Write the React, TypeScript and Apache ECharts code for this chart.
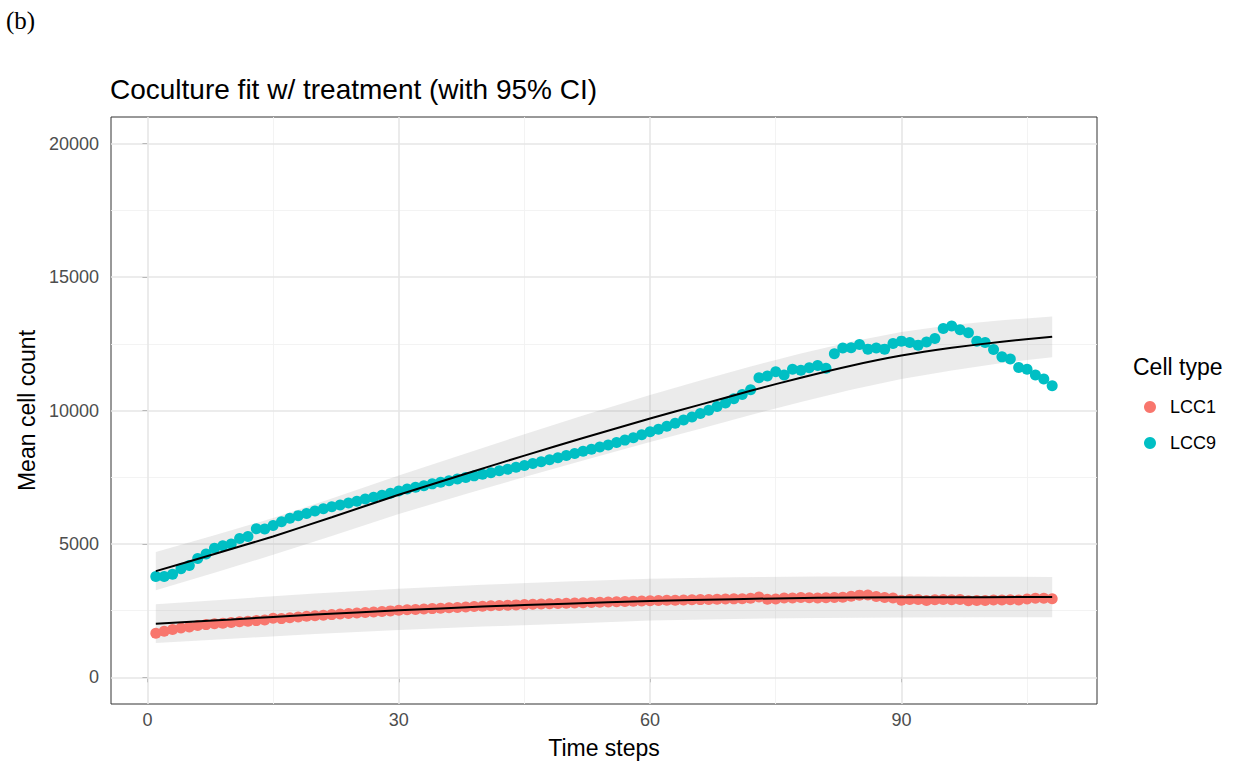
import React, { useEffect, useRef } from "react";
import * as echarts from "echarts";

// ---------- data ----------
const timeSteps: number[] = [
  1, 2, 3, 4, 5, 6, 7, 8, 9, 10, 11, 12, 13, 14, 15, 16, 17, 18, 19, 20,
  21, 22, 23, 24, 25, 26, 27, 28, 29, 30, 31, 32, 33, 34, 35, 36, 37, 38, 39, 40,
  41, 42, 43, 44, 45, 46, 47, 48, 49, 50, 51, 52, 53, 54, 55, 56, 57, 58, 59, 60,
  61, 62, 63, 64, 65, 66, 67, 68, 69, 70, 71, 72, 73, 74, 75, 76, 77, 78, 79, 80,
  81, 82, 83, 84, 85, 86, 87, 88, 89, 90, 91, 92, 93, 94, 95, 96, 97, 98, 99, 100,
  101, 102, 103, 104, 105, 106, 107, 108,
];

const lcc1: number[] = [
  1650, 1730, 1790, 1850, 1890, 1940, 1975, 2005, 2030, 2055,
  2080, 2100, 2125, 2150, 2210, 2200, 2230, 2260, 2285, 2310,
  2330, 2350, 2370, 2390, 2410, 2430, 2450, 2470, 2490, 2510,
  2530, 2545, 2560, 2575, 2590, 2605, 2620, 2635, 2650, 2665,
  2680, 2690, 2700, 2715, 2725, 2735, 2745, 2755, 2765, 2775,
  2785, 2795, 2805, 2815, 2825, 2835, 2845, 2855, 2862, 2870,
  2878, 2885, 2892, 2900, 2906, 2912, 2920, 2925, 2932, 2940,
  2945, 2960, 3010, 2930, 2935, 2970, 2975, 2990, 2980, 2975,
  2985, 2995, 3000, 3040, 3080, 3085, 3030, 2990, 2975, 2890,
  2920, 2915, 2880, 2905, 2920, 2910, 2915, 2870, 2880, 2880,
  2895, 2900, 2905, 2900, 2935, 2960, 2960, 2945,
];

const lcc9: number[] = [
  3780, 3780, 3860, 4070, 4190, 4450, 4620, 4840, 4930, 5000,
  5200, 5280, 5570, 5560, 5690, 5830, 5960, 6060, 6140, 6230,
  6320, 6390, 6460, 6530, 6600, 6680, 6750, 6820, 6900, 6980,
  7060, 7120, 7180, 7250, 7310, 7370, 7430, 7490, 7550, 7610,
  7670, 7740, 7800, 7870, 7940, 8010, 8080, 8150, 8230, 8310,
  8390, 8470, 8550, 8630, 8710, 8800, 8890, 8980, 9090, 9200,
  9300, 9410, 9520, 9640, 9760, 9890, 10010, 10150, 10280, 10440,
  10600, 10780, 11230, 11290, 11450, 11330, 11550, 11510, 11600, 11690,
  11580, 12130, 12340, 12350, 12470, 12300, 12340, 12300, 12510, 12600,
  12550, 12450, 12570, 12700, 13070, 13170, 13030, 12910, 12600, 12550,
  12290, 12010, 11930, 11610, 11550, 11330, 11180, 10930,
];

// fitted curves and 95% CI (sampled at knots)
const fit9T: number[] = [1, 8, 15, 22, 30, 38, 45, 52, 60, 66, 72, 78, 84, 90, 96, 102, 108];
const fit9: number[] = [3980, 4620, 5280, 6000, 6840, 7630, 8310, 8970, 9700, 10220, 10740, 11230, 11680, 12060, 12350, 12580, 12760];
const fit9Lower: number[] = [3260, 3920, 4590, 5300, 6120, 6870, 7510, 8130, 8820, 9320, 9830, 10320, 10780, 11180, 11500, 11780, 12000];
const fit9Upper: number[] = [4700, 5320, 5970, 6700, 7560, 8390, 9110, 9810, 10580, 11120, 11650, 12140, 12580, 12940, 13200, 13380, 13520];

const fit1T: number[] = [1, 10, 20, 30, 40, 50, 60, 70, 80, 90, 100, 108];
const fit1: number[] = [2010, 2170, 2350, 2510, 2650, 2760, 2860, 2930, 2980, 3000, 3005, 3010];
const fit1Lower: number[] = [1290, 1450, 1620, 1770, 1900, 2010, 2130, 2190, 2220, 2240, 2250, 2255];
const fit1Upper: number[] = [2740, 2930, 3140, 3320, 3470, 3590, 3690, 3750, 3780, 3780, 3770, 3760];

const xTicks: number[] = [0, 30, 60, 90];
const xMinor: number[] = [15, 45, 75, 105];
const yTicks: number[] = [0, 5000, 10000, 15000, 20000];
const yMinor: number[] = [2500, 7500, 12500, 17500];

const FONT = "Liberation Sans, Arial, Helvetica, sans-serif";

function bandSeries(id: string, ts: number[], lo: number[], hi: number[]) {
  return {
    id,
    type: "custom",
    silent: true,
    clip: false,
    z: 2,
    data: ts.map((t, i) => [t, lo[i], hi[i]]),
    encode: { x: 0, y: [1, 2] },
    renderItem: (params: any, api: any) => {
      if (params.dataIndex !== 0) return null;
      const top = ts.map((t, i) => api.coord([t, hi[i]]));
      const bot = ts.map((t, i) => api.coord([t, lo[i]])).reverse();
      return {
        type: "polygon",
        shape: { points: top.concat(bot) },
        style: { fill: "rgba(153,153,153,0.2)" },
      };
    },
  };
}

export default function App() {
  const ref = useRef<HTMLDivElement>(null);

  useEffect(() => {
    if (!ref.current) return;
    const chart = echarts.init(ref.current, undefined, { renderer: "svg" });

    const major = { color: "#e6e6e6", width: 1.6, type: "solid" };
    const minor = { color: "#f2f2f2", width: 0.9, type: "solid" };

    const option: any = {
      animation: false,
      backgroundColor: "#ffffff",
      title: [
        {
          text: "(b)",
          left: 6,
          top: 8,
          padding: 0,
          textStyle: { fontFamily: "Liberation Serif, Times New Roman, serif", fontSize: 25, fontWeight: "normal", color: "#000" },
        },
        {
          text: "Coculture fit w/ treatment (with 95% CI)",
          left: 110,
          top: 75,
          padding: 0,
          textStyle: { fontFamily: FONT, fontSize: 28, fontWeight: "normal", color: "#000" },
        },
        {
          text: "Cell type",
          left: 1133,
          top: 355,
          padding: 0,
          textStyle: { fontFamily: FONT, fontSize: 23, fontWeight: "normal", color: "#000" },
        },
      ],
      legend: {
        data: ["LCC1", "LCC9"],
        orient: "vertical",
        left: 1144,
        top: 398,
        padding: 0,
        itemGap: 18,
        itemWidth: 12,
        itemHeight: 12,
        icon: "circle",
        textStyle: { fontFamily: FONT, fontSize: 18, color: "#000", padding: [0, 0, 0, 9] },
      },
      grid: {
        left: 111,
        right: 142,
        top: 117,
        bottom: 59,
        show: true,
        borderColor: "#333333",
        borderWidth: 1,
        backgroundColor: "transparent",
      },
      xAxis: {
        type: "value",
        min: -4.35,
        max: 113.35,
        name: "Time steps",
        nameLocation: "middle",
        nameGap: 32,
        nameTextStyle: { fontFamily: FONT, fontSize: 23, color: "#000" },
        axisLine: { show: false },
        splitLine: { show: false },
        axisTick: { show: true, length: 5, lineStyle: { color: "#333", width: 1 }, customValues: xTicks },
        axisLabel: { customValues: xTicks, margin: 7, fontFamily: FONT, fontSize: 18, color: "#4d4d4d", formatter: (v: number) => String(v) },
      },
      yAxis: {
        type: "value",
        min: -1000,
        max: 21000,
        name: "Mean cell count",
        nameLocation: "middle",
        nameGap: 63,
        nameTextStyle: { fontFamily: FONT, fontSize: 23, color: "#000" },
        axisLine: { show: false },
        splitLine: { show: false },
        axisTick: { show: true, length: 5, lineStyle: { color: "#333", width: 1 }, customValues: yTicks },
        axisLabel: { customValues: yTicks, margin: 12, fontFamily: FONT, fontSize: 18, color: "#4d4d4d", formatter: (v: number) => String(v) },
      },
      series: [
        {
          id: "grid-lines",
          type: "line",
          data: [],
          silent: true,
          z: 1,
          markLine: {
            silent: true,
            symbol: ["none", "none"],
            label: { show: false },
            z: 1,
            data: [
              ...xMinor.map((v) => ({ xAxis: v, lineStyle: minor })),
              ...yMinor.map((v) => ({ yAxis: v, lineStyle: minor })),
              ...xTicks.map((v) => ({ xAxis: v, lineStyle: major })),
              ...yTicks.map((v) => ({ yAxis: v, lineStyle: major })),
            ],
          },
        },
        bandSeries("band1", fit1T, fit1Lower, fit1Upper),
        bandSeries("band9", fit9T, fit9Lower, fit9Upper),
        {
          name: "LCC1",
          type: "scatter",
          z: 3,
          symbolSize: 11,
          itemStyle: { color: "#F8766D", opacity: 1 },
          data: timeSteps.map((t, i) => [t, lcc1[i]]),
        },
        {
          name: "LCC9",
          type: "scatter",
          z: 3,
          symbolSize: 11,
          itemStyle: { color: "#00BFC4", opacity: 1 },
          data: timeSteps.map((t, i) => [t, lcc9[i]]),
        },
        {
          id: "fit1",
          type: "line",
          z: 4,
          silent: true,
          showSymbol: false,
          smooth: 0.2,
          lineStyle: { color: "#000", width: 2 },
          data: fit1T.map((t, i) => [t, fit1[i]]),
        },
        {
          id: "fit9",
          type: "line",
          z: 4,
          silent: true,
          showSymbol: false,
          smooth: 0.2,
          lineStyle: { color: "#000", width: 2 },
          data: fit9T.map((t, i) => [t, fit9[i]]),
        },
      ],
    };

    chart.setOption(option);
    return () => chart.dispose();
  }, []);

  return (
    <div
      ref={ref}
      style={{ position: "fixed", left: 0, top: 0, width: 1239, height: 764, background: "#fff" }}
    />
  );
}
